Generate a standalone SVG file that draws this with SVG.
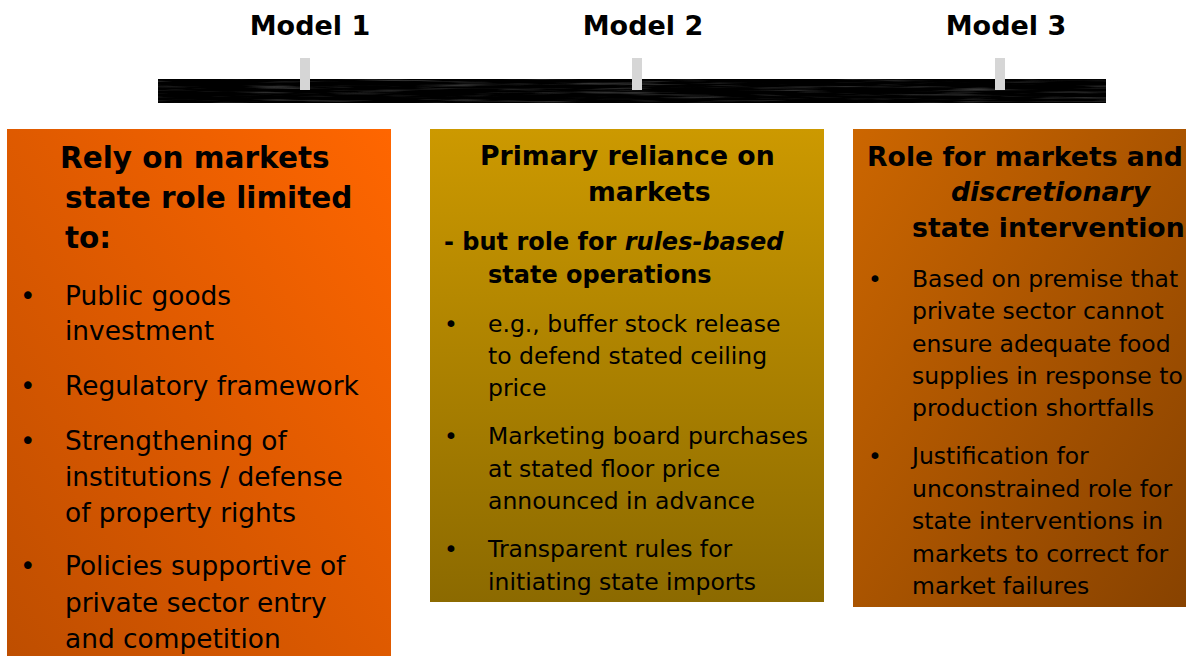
<svg xmlns="http://www.w3.org/2000/svg" width="1186" height="656" viewBox="0 0 1186 656">
<style>
text{font-family:"DejaVu Sans","Liberation Sans",sans-serif;fill:#000}
.model{font-size:27px;font-weight:bold;text-anchor:middle}
.t1{font-size:29.5px;font-weight:bold}
.t{font-size:26.7px;font-weight:bold}
.s{font-size:24px;font-weight:bold}
.b1{font-size:26.4px}
.b{font-size:23.5px}
.tick{fill:#D6D6D6}
</style>
<defs>
<linearGradient id="g1" x1="0" y1="1" x2="1" y2="0">
<stop offset="0" stop-color="#BE4E00"/>
<stop offset="1" stop-color="#FF6600"/>
</linearGradient>
<linearGradient id="g2" x1="0" y1="0" x2="0" y2="1">
<stop offset="0" stop-color="#CC9900"/>
<stop offset="1" stop-color="#8C6A00"/>
</linearGradient>
<linearGradient id="g3" x1="0" y1="0" x2="1" y2="1">
<stop offset="0" stop-color="#CC6600"/>
<stop offset="1" stop-color="#874200"/>
</linearGradient>
<filter id="streak" x="0" y="0" width="100%" height="100%">
<feTurbulence type="fractalNoise" baseFrequency="0.012 0.35" numOctaves="3" seed="4"/>
<feColorMatrix type="matrix" values="0 0 0 0 1  0 0 0 0 1  0 0 0 0 1  1.4 0 0 0 -0.72"/>
</filter>
</defs>

<g id="timeline">
<rect x="158" y="79" width="948" height="24" fill="#000"/>
<rect x="158" y="79" width="948" height="24" filter="url(#streak)" opacity="0.45"/>
<rect class="tick" x="300" y="58" width="10" height="32"/>
<rect class="tick" x="632" y="58" width="10" height="32"/>
<rect class="tick" x="995" y="58" width="10" height="32"/>
<text class="model" x="310" y="35">Model 1</text>
<text class="model" x="643" y="35">Model 2</text>
<text class="model" x="1006" y="35">Model 3</text>
</g>

<g id="model1">
<rect x="7" y="129" width="384" height="530" fill="url(#g1)"/>
<text class="t1" x="60" y="168">Rely on markets</text>
<text class="t1" x="65" y="208">state role limited</text>
<text class="t1" x="65" y="248">to:</text>
<g class="b1">
<text x="20" y="305">•</text>
<text x="65" y="305">Public goods</text>
<text x="65" y="340">investment</text>
<text x="20" y="395">•</text>
<text x="65" y="395">Regulatory framework</text>
<text x="20" y="450">•</text>
<text x="65" y="450">Strengthening of</text>
<text x="65" y="486">institutions / defense</text>
<text x="65" y="522">of property rights</text>
<text x="20" y="575">•</text>
<text x="65" y="575">Policies supportive of</text>
<text x="65" y="612">private sector entry</text>
<text x="65" y="648">and competition</text>
</g>
</g>

<g id="model2">
<rect x="430" y="129" width="394" height="473" fill="url(#g2)"/>
<text class="t" x="480" y="165">Primary reliance on</text>
<text class="t" x="588" y="201">markets</text>
<text class="s" x="444" y="250">- but role for <tspan font-style="italic">rules-based</tspan></text>
<text class="s" x="488" y="283">state operations</text>
<g class="b">
<text x="444" y="332">•</text>
<text x="488" y="332">e.g., buffer stock release</text>
<text x="488" y="364">to defend stated ceiling</text>
<text x="488" y="396">price</text>
<text x="444" y="444">•</text>
<text x="488" y="444">Marketing board purchases</text>
<text x="488" y="477">at stated floor price</text>
<text x="488" y="509">announced in advance</text>
<text x="444" y="557">•</text>
<text x="488" y="557">Transparent rules for</text>
<text x="488" y="590">initiating state imports</text>
</g>
</g>

<g id="model3">
<rect x="853" y="129" width="340" height="478" fill="url(#g3)"/>
<text class="t" x="867" y="166">Role for markets and</text>
<text class="t" x="951" y="201" font-style="italic">discretionary</text>
<text class="t" x="912" y="237">state intervention</text>
<g class="b">
<text x="868" y="287">•</text>
<text x="912" y="287">Based on premise that</text>
<text x="912" y="319">private sector cannot</text>
<text x="912" y="352">ensure adequate food</text>
<text x="912" y="384">supplies in response to</text>
<text x="912" y="416">production shortfalls</text>
<text x="868" y="464">•</text>
<text x="912" y="464">Justification for</text>
<text x="912" y="497">unconstrained role for</text>
<text x="912" y="529">state interventions in</text>
<text x="912" y="562">markets to correct for</text>
<text x="912" y="594">market failures</text>
</g>
</g>
</svg>
